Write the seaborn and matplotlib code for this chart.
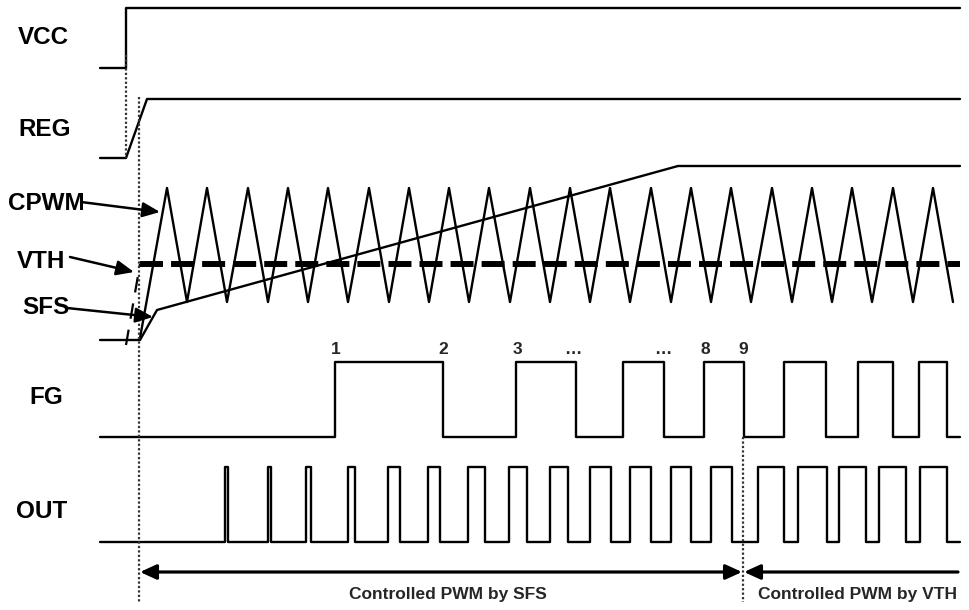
import matplotlib
matplotlib.use("Agg")
import matplotlib.pyplot as plt
import seaborn as sns
import numpy as np

# ---- data (time axis and levels) ----
t_start, t_end = 100, 960

vcc_t = [100, 126, 126, 960]
vcc_v = [68, 68, 8, 8]

reg_t = [100, 126, 147, 960]
reg_v = [158, 158, 99, 99]

cpwm_start = (140, 338)
cpwm_peaks_t = [167, 207, 248, 288, 328, 369, 409, 449, 489, 530,
                570, 610, 651, 691, 731, 772, 812, 852, 893, 933]
cpwm_troughs_t = [187, 227, 268, 308, 348, 389, 429, 469, 510, 550,
                  590, 630, 671, 711, 751, 792, 832, 872, 913, 953]
cpwm_hi, cpwm_lo = 188, 302

vth_t = [140, 960]
vth_v = [264, 264]
vth_ramp_t = [126, 140]
vth_ramp_v = [345, 264]

sfs_t = [100, 140, 157, 678, 960]
sfs_v = [340, 340, 310, 166, 166]

fg_edges = [335, 443, 516, 576, 623, 664, 704, 744, 784, 826, 858, 893, 919, 947]
fg_hi, fg_lo = 362, 437
fg_marks = ["1", "2", "3", "…", "…", "8", "9"]
fg_mark_t = [336, 443, 517, 573, 663, 705, 743]

out_rise = [225, 268, 306, 348, 388, 428, 468, 509, 550, 590, 630, 671, 711,
            758, 798, 839, 879, 920]
out_fall = [228, 271, 311, 355, 400, 440, 485, 527, 568, 611, 651, 691, 732,
            784, 827, 866, 906, 947]
out_hi, out_lo = 467, 542

signal_names = ["VCC", "REG", "CPWM", "VTH", "SFS", "FG", "OUT"]
region_labels = ["Controlled PWM by SFS", "Controlled PWM by VTH"]
boundary_t = [126, 139, 743]

# ---- build waveforms ----
cp_t = [cpwm_start[0]]
cp_v = [cpwm_start[1]]
for p, tr in zip(cpwm_peaks_t, cpwm_troughs_t):
    cp_t += [p, tr]
    cp_v += [cpwm_hi, cpwm_lo]

fg_t = [t_start]
fg_v = [fg_lo]
lvl = fg_lo
for e in fg_edges:
    fg_t += [e, e]
    nxt = fg_hi if lvl == fg_lo else fg_lo
    fg_v += [lvl, nxt]
    lvl = nxt
fg_t.append(t_end)
fg_v.append(lvl)

o_t = [t_start]
o_v = [out_lo]
for r, f in zip(out_rise, out_fall):
    o_t += [r, r, f, f]
    o_v += [out_lo, out_hi, out_hi, out_lo]
o_t.append(t_end)
o_v.append(out_lo)

# ---- plot ----
sns.set_theme(style="white")
plt.rcParams['font.family'] = ['Liberation Sans', 'DejaVu Sans']

fig = plt.figure(figsize=(9.7, 6.1), dpi=100)
ax = fig.add_axes([0, 0, 1, 1])
ax.set_xlim(0, 970)
ax.set_ylim(610, 0)
ax.axis("off")

lw = 1.7
kw = dict(sort=False, estimator=None, color="black", linewidth=lw, ax=ax, legend=False)
sns.lineplot(x=vcc_t, y=vcc_v, **kw)
sns.lineplot(x=reg_t, y=reg_v, **kw)
sns.lineplot(x=cp_t, y=cp_v, **kw)
sns.lineplot(x=sfs_t, y=sfs_v, **kw)
sns.lineplot(x=fg_t, y=fg_v, **kw)
sns.lineplot(x=o_t, y=o_v, **kw)

ax.plot(vth_t, vth_v, color="black", linewidth=4.3, linestyle=(0, (3.85, 1.35)),
        solid_capstyle="butt", dash_capstyle="butt")
ax.plot(vth_ramp_t, vth_ramp_v, color="black", linewidth=1.6, linestyle=(0, (7, 5)))

# dotted boundary lines
dot = dict(color="#333333", linewidth=1.6, linestyle=(0, (1, 1)))
ax.plot([boundary_t[0]] * 2, [55, 158], **dot)
ax.plot([boundary_t[1]] * 2, [97, 602], **dot)
ax.plot([boundary_t[2]] * 2, [437, 602], **dot)

# signal labels
lab_pos = [(18, 38), (18, 129), (8, 203), (17, 262), (22, 307), (29, 398), (16, 511)]
for name, (x, y) in zip(signal_names, lab_pos):
    ax.text(x, y, name, fontsize=17.5, fontweight="bold", ha="left", va="center",
            color="black")

# label arrows
arr = dict(arrowstyle="-|>,head_length=0.7,head_width=0.3", color="black",
           lw=1.8, mutation_scale=15, shrinkA=0, shrinkB=0)
for (x0, y0), (x1, y1) in [((81, 202), (160, 212)), ((70, 257), (134, 272)),
                           ((67, 308), (153, 317))]:
    ax.annotate("", xy=(x1, y1), xytext=(x0, y0), arrowprops=arr)

# FG event marks
for m, t in zip(fg_marks, fg_mark_t):
    ax.text(t, 350, m, fontsize=12.5, fontweight="bold", ha="center", va="center")

# region arrows
arr2 = dict(arrowstyle="<|-|>,head_length=0.7,head_width=0.32", color="black",
            lw=2.3, mutation_scale=14, shrinkA=0, shrinkB=0)
ax.annotate("", xy=(742, 572), xytext=(140, 572), arrowprops=arr2)
arr3 = dict(arrowstyle="<|-,head_length=0.7,head_width=0.32", color="black",
            lw=2.3, mutation_scale=14, shrinkA=0, shrinkB=0)
ax.annotate("", xy=(958, 572), xytext=(744, 572), arrowprops=arr3)

ax.text(448, 594, region_labels[0], fontsize=12.5, fontweight="bold",
        ha="center", va="center")
ax.text(858, 594, region_labels[1], fontsize=12.5, fontweight="bold",
        ha="center", va="center")

fig.savefig("out.png", dpi=100)
